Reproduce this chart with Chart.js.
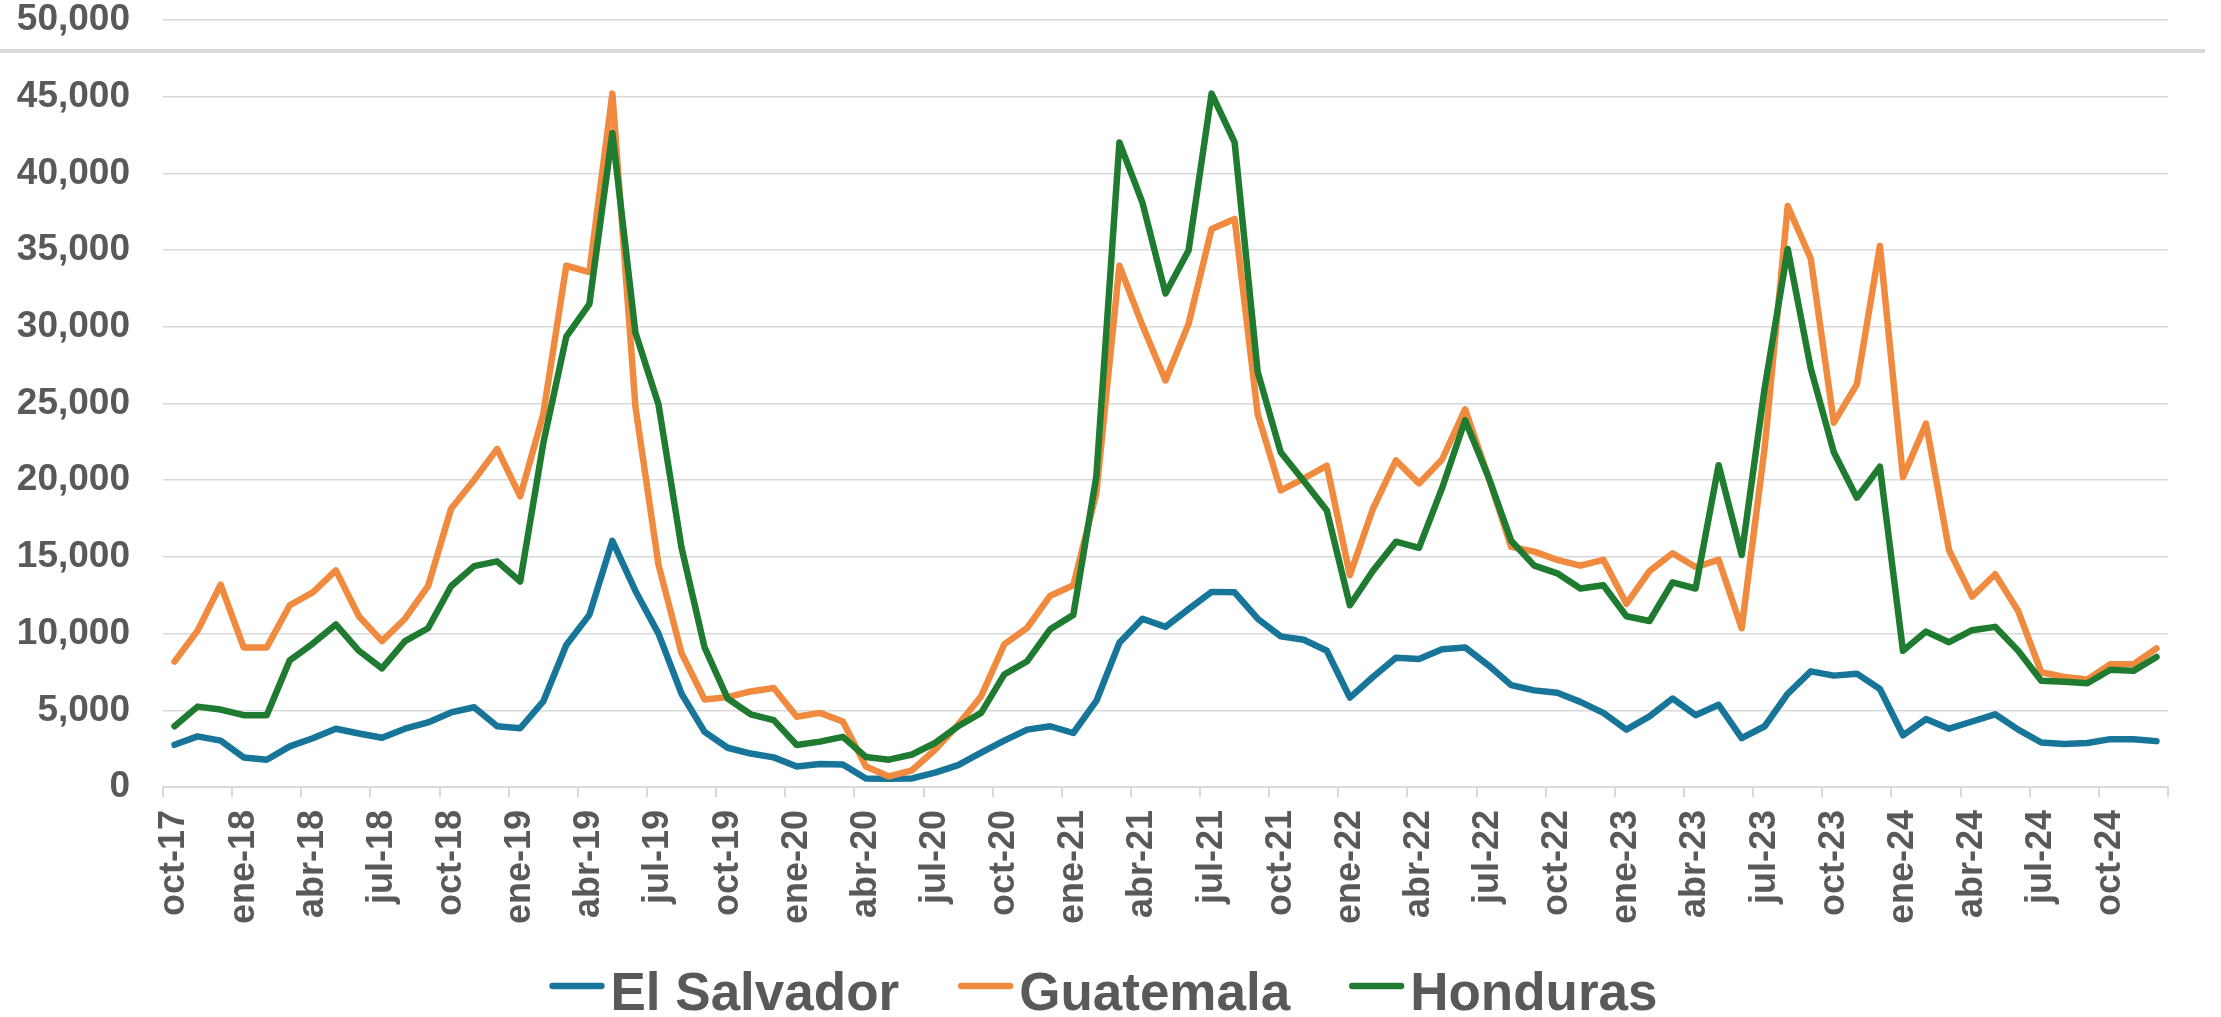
<!DOCTYPE html>
<html>
<head>
<meta charset="utf-8">
<script src="https://cdn.jsdelivr.net/npm/chart.js@4.4.1/dist/chart.umd.min.js"></script>
<style>
  html, body { margin: 0; padding: 0; background: #ffffff; }
  #wrap { position: relative; width: 2221px; height: 1017px; overflow: hidden; background: #ffffff; }
  #topRule { position: absolute; left: 0; top: 49px; width: 2205px; height: 4px; background: #d9d9d9; }
  canvas { position: absolute; left: 0; top: 0; }
</style>
</head>
<body>
<div id="wrap">
  <canvas id="c" width="2221" height="1017"></canvas>
  <div id="topRule"></div>
</div>
<script>
const months = [
  "oct-17","nov-17","dic-17",
  "ene-18","feb-18","mar-18","abr-18","may-18","jun-18","jul-18","ago-18","sep-18","oct-18","nov-18","dic-18",
  "ene-19","feb-19","mar-19","abr-19","may-19","jun-19","jul-19","ago-19","sep-19","oct-19","nov-19","dic-19",
  "ene-20","feb-20","mar-20","abr-20","may-20","jun-20","jul-20","ago-20","sep-20","oct-20","nov-20","dic-20",
  "ene-21","feb-21","mar-21","abr-21","may-21","jun-21","jul-21","ago-21","sep-21","oct-21","nov-21","dic-21",
  "ene-22","feb-22","mar-22","abr-22","may-22","jun-22","jul-22","ago-22","sep-22","oct-22","nov-22","dic-22",
  "ene-23","feb-23","mar-23","abr-23","may-23","jun-23","jul-23","ago-23","sep-23","oct-23","nov-23","dic-23",
  "ene-24","feb-24","mar-24","abr-24","may-24","jun-24","jul-24","ago-24","sep-24","oct-24","nov-24","dic-24"
];

const elSalvador = [
  2750,3300,3020,
  1930,1780,2650,3180,3800,3490,3210,3800,4210,4860,5200,3960,
  3830,5580,9260,11220,16050,12780,10000,6080,3590,2560,2180,1930,
  1340,1500,1470,560,530,560,940,1430,2240,3020,3740,3960,
  3520,5610,9410,10970,10440,11600,12720,12690,10970,9820,9600,8880,
  5830,7170,8420,8350,8980,9100,7950,6640,6300,6140,5550,4830,
  3740,4600,5770,4680,5360,3180,3960,6080,7540,7260,7390,6390,
  3370,4430,3800,4270,4740,3740,2900,2800,2870,3120,3120,2990
];

const guatemala = [
  8170,10190,13190,
  9100,9100,11850,12690,14120,11130,9510,10970,13090,18140,20010,22040,
  18950,24310,33980,33570,45200,24780,14490,8730,5700,5860,6230,6450,
  4580,4830,4270,1340,690,1090,2430,4050,5920,9290,10380,12470,
  13150,19170,33980,30080,26500,30190,36380,37030,24310,19330,20110,20950,
  13810,18140,21290,19790,21350,24620,20260,15650,15340,14810,14430,14810,
  11940,14070,15240,14340,14810,10350,22130,37870,34440,23750,26250,35280,
  20200,23690,15430,12410,13870,11470,7480,7170,7010,8010,8010,9040
];

const honduras = [
  3960,5240,5050,
  4680,4680,8260,9350,10600,8880,7730,9510,10350,13090,14400,14710,
  13400,22400,29360,31480,42640,29610,24940,15590,9100,5770,4740,4360,
  2740,2960,3270,1960,1780,2120,2870,3960,4830,7330,8200,10290,
  11220,20260,42020,38090,32170,34970,45200,42020,27060,21820,19950,18020,
  11850,14090,15990,15590,19480,23910,20260,16050,14430,13930,12940,13150,
  11130,10820,13340,12940,20980,15120,26030,35070,27270,21820,18860,20880,
  8880,10130,9440,10220,10440,8880,6920,6860,6760,7640,7570,8480
];

const seriesNames = ["El Salvador", "Guatemala", "Honduras"];
const seriesColors = ["#17759a", "#f08a3e", "#1e7b30"];
const yTicks = [0, 5000, 10000, 15000, 20000, 25000, 30000, 35000, 40000, 45000, 50000];

const GRID = "#d9d9d9";
const TEXT = "#595959";
const FONT = '"Liberation Sans", Arial, sans-serif';
const CLEAR = 'rgba(0,0,0,0)';

const customLegend = {
  id: 'customLegend',
  afterDraw(chart) {
    const ctx = chart.ctx;
    ctx.save();
    ctx.font = 'bold 53px ' + FONT;
    const lineW = 55, gapText = 6, gapItem = 59;
    const items = chart.data.datasets.map(ds => ({
      label: ds.label, color: ds.borderColor, w: ctx.measureText(ds.label).width
    }));
    const total = items.reduce((s, it) => s + lineW + gapText + it.w, 0) + gapItem * (items.length - 1);
    let x = chart.width / 2 - 7 - total / 2;
    const lineY = 986, textY = 1010;
    items.forEach(it => {
      ctx.strokeStyle = it.color;
      ctx.lineWidth = 6.3;
      ctx.lineCap = 'round';
      ctx.beginPath();
      ctx.moveTo(x + 3, lineY);
      ctx.lineTo(x + lineW - 3, lineY);
      ctx.stroke();
      ctx.fillStyle = TEXT;
      ctx.textAlign = 'left';
      ctx.textBaseline = 'alphabetic';
      ctx.fillText(it.label, x + lineW + gapText, textY);
      x += lineW + gapText + it.w + gapItem;
    });
    ctx.restore();
  }
};

const datasets = [elSalvador, guatemala, honduras].map((d, i) => ({
  label: seriesNames[i],
  data: d,
  borderColor: seriesColors[i],
  backgroundColor: seriesColors[i],
  borderWidth: 6.5,
  pointRadius: 0,
  pointHoverRadius: 0,
  tension: 0,
  fill: false,
  borderCapStyle: 'round',
  borderJoinStyle: 'round',
  order: 2 - i
}));

new Chart(document.getElementById('c'), {
  type: 'line',
  data: { labels: months, datasets: datasets },
  plugins: [customLegend],
  options: {
    responsive: false,
    animation: false,
    devicePixelRatio: 1,
    layout: { padding: { top: 20, right: 53, bottom: 90, left: 0 } },
    plugins: {
      legend: { display: false },
      tooltip: { enabled: false },
      title: { display: false }
    },
    scales: {
      x: {
        type: 'category',
        offset: true,
        afterFit(scale) { scale.height = 140; },
        grid: {
          offset: true,
          drawOnChartArea: false,
          drawTicks: true,
          tickLength: 10,
          lineWidth: 2,
          color: (c) => (c.index === undefined || c.index % 3 === 0) ? GRID : CLEAR
        },
        border: { display: true, color: GRID, width: 2 },
        ticks: {
          autoSkip: false,
          maxRotation: 90,
          minRotation: 90,
          padding: 13,
          color: TEXT,
          font: { family: FONT, size: 36, weight: 'bold' },
          callback: function(value, index) { return index % 3 === 0 ? this.getLabelForValue(value) : ''; }
        }
      },
      y: {
        min: 0,
        max: 50000,
        afterFit(scale) { scale.width = 163; },
        afterBuildTicks(scale) { scale.ticks = yTicks.map(v => ({ value: v })); },
        grid: { color: GRID, lineWidth: 1.6, drawTicks: true, tickLength: 33, tickColor: CLEAR },
        border: { display: false },
        ticks: {
          padding: 0,
          color: TEXT,
          font: { family: FONT, size: 37, weight: 'bold', lineHeight: 1 },
          callback: (v) => Number(v).toLocaleString('en-US')
        }
      }
    }
  }
});
</script>
</body>
</html>
